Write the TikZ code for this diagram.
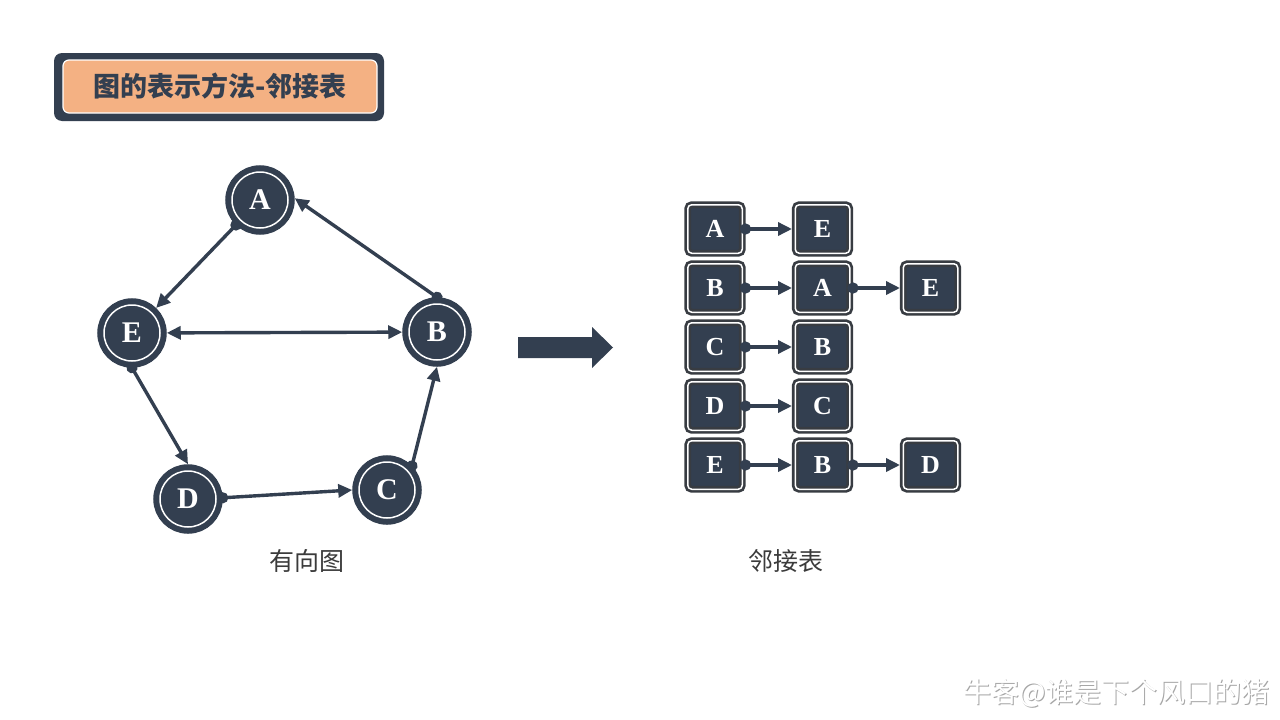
\documentclass[tikz,border=0pt]{standalone}
\usepackage{fontspec}
\setmainfont{Liberation Serif}
\newfontfamily\cjk{Noto Sans CJK SC}
\newfontfamily\cjkb{Noto Sans CJK SC Black}
\usetikzlibrary{arrows.meta,shapes.misc}
\definecolor{dk}{HTML}{333F50}
\definecolor{bx}{HTML}{383C42}
\definecolor{org}{HTML}{F4B183}
\definecolor{txt}{HTML}{3B3B3B}
\tikzset{
  gnode/.style={circle, fill=dk, draw=dk, double=white, double distance=1.5pt,
    line width=6pt, minimum size=56pt, inner sep=0pt, outer sep=6.75pt,
    text=white, font=\fontsize{30}{30}\selectfont\bfseries},
  lbox/.style={rounded corners=4pt, fill=dk, draw=bx, double=white, double distance=1.5pt,
    line width=2.7pt, minimum width=54.5pt, minimum height=48.5pt, inner sep=0pt, outer sep=3.25pt,
    text=white, font=\fontsize{26}{26}\selectfont\bfseries},
  gedge/.style={dk, line width=3.4pt, {Circle[length=11pt]}-{Triangle[length=14pt,width=13pt]}, shorten <=-5.5pt},
  biedge/.style={dk, line width=3.4pt, {Triangle[length=14pt,width=13pt]}-{Triangle[length=14pt,width=13pt]}},
  caplabel/.style={text=txt, font=\cjk\fontsize{25}{25}\selectfont}
}
\begin{document}
\begin{tikzpicture}[x=1pt,y=-1pt]
\useasboundingbox[fill=white] (0,0) rectangle (1280,720);
% title
\node[rounded corners=8pt, fill=dk, minimum width=330pt, minimum height=68pt, inner sep=0pt] (tback) at (219,87) {};
\node[rounded corners=6pt, fill=org, draw=white, line width=1.2pt, minimum width=314pt, minimum height=53pt, inner sep=0pt,
  text=dk, font=\cjkb\fontsize{27}{27}\selectfont] (title) at (220,86.5) {图的表示方法-邻接表};
% graph
\node[gnode] (A) at (260,200) {A};
\node[gnode] (E) at (132,333) {E};
\node[gnode] (B) at (437,332) {B};
\node[gnode] (D) at (188,499) {D};
\node[gnode] (C) at (387,490) {C};
\draw[gedge] (A) -- (E);
\draw[gedge] (B.90) -- (A.3);
\draw[biedge] (E) -- (B);
\draw[gedge] (E.270) -- (D.90);
\draw[gedge] (D.2) -- (C.180);
\draw[gedge] (C.44) -- (B.270);
\node[caplabel] (lg) at (307,561) {有向图};
% big arrow
\fill[dk] (518,337) -- (592,337) -- (592,327) -- (613,347.5) -- (592,368) -- (592,358) -- (518,358) -- cycle;
% adjacency list
\node[lbox] (a1) at (715,229) {A};
\node[lbox] (a2) at (822.5,229) {E};
\node[lbox] (b1) at (715,288) {B};
\node[lbox] (b2) at (822.5,288) {A};
\node[lbox] (b3) at (930.5,288) {E};
\node[lbox] (c1) at (715,347) {C};
\node[lbox] (c2) at (822.5,347) {B};
\node[lbox] (d1) at (715,406) {D};
\node[lbox] (d2) at (822.5,406) {C};
\node[lbox] (e1) at (715,465) {E};
\node[lbox] (e2) at (822.5,465) {B};
\node[lbox] (e3) at (930.5,465) {D};
\draw[gedge] (a1) -- (a2);
\draw[gedge] (b1) -- (b2);
\draw[gedge] (b2) -- (b3);
\draw[gedge] (c1) -- (c2);
\draw[gedge] (d1) -- (d2);
\draw[gedge] (e1) -- (e2);
\draw[gedge] (e2) -- (e3);
\node[caplabel] (ll) at (786,561) {邻接表};
% watermark
\node[text=gray!70, font=\cjk\fontsize{28}{28}\selectfont] (wms) at (1117.5,694) {牛客@谁是下个风口的猪};
\node[text=white, font=\cjk\fontsize{28}{28}\selectfont] (wm) at (1116.5,693) {牛客@谁是下个风口的猪};
\end{tikzpicture}
\end{document}
